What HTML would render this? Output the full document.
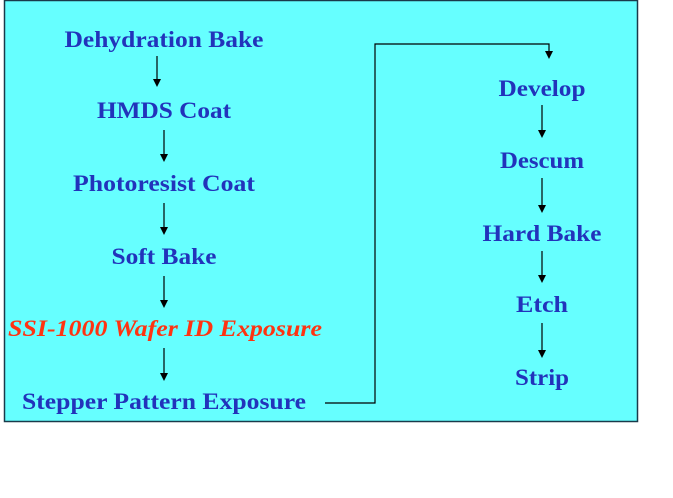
<!DOCTYPE html>
<html><head><style>body{margin:0;background:#fff}</style></head><body>
<svg width="673" height="493" xmlns="http://www.w3.org/2000/svg">
<rect x="4.5" y="0.5" width="633" height="421" fill="#66FFFF" stroke="#1a3a4a" stroke-width="1.5"/>
<g font-family="Liberation Serif, serif" font-weight="bold" font-size="23" fill="#2233BB" text-anchor="middle" lengthAdjust="spacingAndGlyphs">
<text x="164" y="47" textLength="199" lengthAdjust="spacingAndGlyphs">Dehydration Bake</text>
<text x="164" y="118" textLength="134" lengthAdjust="spacingAndGlyphs">HMDS Coat</text>
<text x="164" y="191" textLength="182" lengthAdjust="spacingAndGlyphs">Photoresist Coat</text>
<text x="164" y="264" textLength="105" lengthAdjust="spacingAndGlyphs">Soft Bake</text>
<text x="165" y="336" fill="#FF3311" font-style="italic" textLength="314" lengthAdjust="spacingAndGlyphs">SSI-1000 Wafer ID Exposure</text>
<text x="164" y="409" textLength="284" lengthAdjust="spacingAndGlyphs">Stepper Pattern Exposure</text>
<text x="542" y="96" textLength="87" lengthAdjust="spacingAndGlyphs">Develop</text>
<text x="542" y="168" textLength="84" lengthAdjust="spacingAndGlyphs">Descum</text>
<text x="542" y="241" textLength="119" lengthAdjust="spacingAndGlyphs">Hard Bake</text>
<text x="542" y="312" textLength="52" lengthAdjust="spacingAndGlyphs">Etch</text>
<text x="542" y="385" textLength="54" lengthAdjust="spacingAndGlyphs">Strip</text>
</g>
<g stroke="#000" stroke-width="1.2" fill="none">
<line x1="157" y1="56" x2="157" y2="80"/>
<line x1="164" y1="130" x2="164" y2="155"/>
<line x1="164" y1="203" x2="164" y2="228"/>
<line x1="164" y1="276" x2="164" y2="301"/>
<line x1="164" y1="348" x2="164" y2="374"/>
<line x1="542" y1="105" x2="542" y2="131"/>
<line x1="542" y1="178" x2="542" y2="206"/>
<line x1="542" y1="251" x2="542" y2="276"/>
<line x1="542" y1="323" x2="542" y2="351"/>
<polyline points="325,403 375,403 375,44 549,44 549,52"/>
</g>
<g fill="#000">
<path d="M153,79 L161,79 L157,87 z"/>
<path d="M160,154 L168,154 L164,162 z"/>
<path d="M160,227 L168,227 L164,235 z"/>
<path d="M160,300 L168,300 L164,308 z"/>
<path d="M160,373 L168,373 L164,381 z"/>
<path d="M538,130 L546,130 L542,138 z"/>
<path d="M538,205 L546,205 L542,213 z"/>
<path d="M538,275 L546,275 L542,283 z"/>
<path d="M538,350 L546,350 L542,358 z"/>
<path d="M545,51 L553,51 L549,59 z"/>
</g>
</svg>
</body></html>
